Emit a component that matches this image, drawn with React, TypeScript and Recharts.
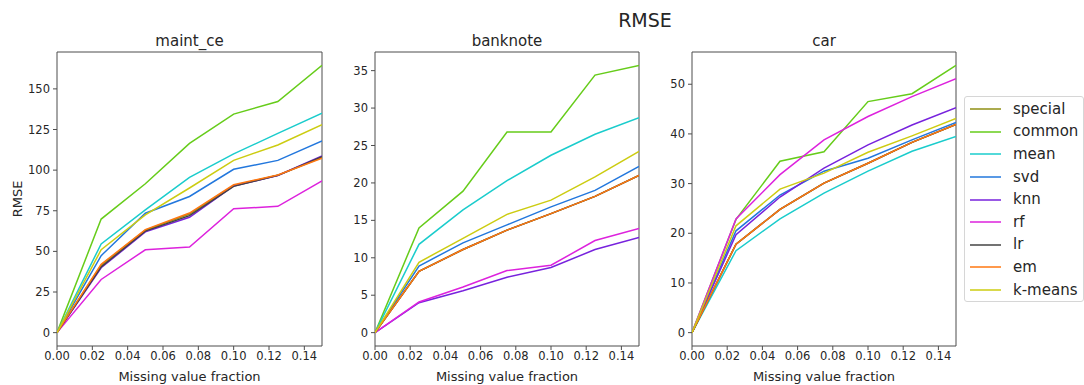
import { LineChart, Line, XAxis, YAxis, ReferenceArea, Legend } from 'recharts';

const fractions = [0, 0.025, 0.05, 0.075, 0.1, 0.125, 0.15];
const xTicks = [0, 0.02, 0.04, 0.06, 0.08, 0.1, 0.12, 0.14];

const methods = ['special', 'common', 'mean', 'svd', 'knn', 'rf', 'lr', 'em', 'k-means'];
const methodColors = ['#8f8f14', '#66cc1a', '#1acccc', '#2277dd', '#7722dd', '#dd22dd', '#444444', '#ff7711', '#cccc11'];

// maint_ce
const maintCe: Record<string, number[]> = {
  special: [0, 41.5, 63, 73, 90.5, 96.8, 107.8],
  common: [0, 69.9, 91.6, 116.5, 134.5, 142.2, 164.5],
  mean: [0, 54.6, 75.5, 95.6, 110, 122.6, 135],
  svd: [0, 47.4, 73.5, 83.8, 100.5, 106, 117.9],
  knn: [0, 39.9, 62, 71, 90.3, 96.7, 108.7],
  rf: [0, 32.7, 51, 52.7, 76.2, 77.7, 93.4],
  lr: [0, 40.5, 62.5, 72, 90, 96.8, 108.3],
  em: [0, 42, 63.4, 73.6, 91, 97, 107.3],
  'k-means': [0, 51, 72.5, 89, 106, 115.5, 128],
};

// banknote
const banknote: Record<string, number[]> = {
  special: [0, 8.2, 11.1, 13.7, 15.9, 18.2, 21.0],
  common: [0, 14.0, 18.9, 26.8, 26.8, 34.4, 35.7],
  mean: [0, 11.8, 16.4, 20.3, 23.7, 26.5, 28.7],
  svd: [0, 8.9, 12.0, 14.4, 16.8, 19.0, 22.2],
  knn: [0, 4.0, 5.6, 7.4, 8.7, 11.1, 12.7],
  rf: [0, 4.1, 6.1, 8.3, 9.0, 12.3, 13.9],
  lr: [0, 8.2, 11.1, 13.7, 15.9, 18.2, 21.0],
  em: [0, 8.2, 11.1, 13.7, 15.9, 18.2, 21.0],
  'k-means': [0, 9.4, 12.6, 15.8, 17.7, 20.8, 24.2],
};

// car
const car: Record<string, number[]> = {
  special: [0, 17.8, 24.8, 30.1, 34.1, 38.3, 41.9],
  common: [0, 22.8, 34.5, 36.4, 46.5, 48.1, 53.8],
  mean: [0, 16.5, 22.9, 28.1, 32.5, 36.5, 39.5],
  svd: [0, 20.5, 27.7, 32.5, 35.1, 38.8, 42.3],
  knn: [0, 19.7, 27.3, 33.1, 37.8, 41.8, 45.3],
  rf: [0, 22.9, 31.8, 38.8, 43.5, 47.5, 51.1],
  lr: [0, 17.8, 24.8, 30.1, 34.1, 38.3, 41.9],
  em: [0, 17.8, 24.8, 30.1, 34.1, 38.3, 41.9],
  'k-means': [0, 21.5, 28.9, 32.1, 36.3, 39.6, 43.1],
};

const maintTicks = [0, 25, 50, 75, 100, 125, 150];
const banknoteTicks = [0, 5, 10, 15, 20, 25, 30, 35];
const carTicks = [0, 10, 20, 30, 40, 50];

const FONT = '"DejaVu Sans", sans-serif';
const TEXT = '#262626';
const SPINE = '#4d4d4d';

function buildRows(values: Record<string, number[]>) {
  return fractions.map((x, i) => {
    const row: Record<string, number> = { x };
    methods.forEach((m) => {
      row[m] = values[m][i];
    });
    return row;
  });
}

function LegendBox({ payload }: any) {
  // keep the plotting order, recharts sorts by name otherwise
  const items = [...(payload || [])].sort(
    (a: any, b: any) => methods.indexOf(a.value) - methods.indexOf(b.value)
  );
  return (
    <div
      style={{
        width: 120,
        height: 206,
        boxSizing: 'border-box',
        border: '1px solid #d6d6d6',
        borderRadius: 3,
        background: 'rgba(255,255,255,0.85)',
        paddingTop: 1,
        fontFamily: FONT,
        fontSize: 15,
        color: TEXT,
      }}
    >
      {items.map((entry: any) => (
        <div key={entry.value} style={{ height: 22.6, display: 'flex', alignItems: 'center' }}>
          <svg width={31} height={4} style={{ marginLeft: 5, marginRight: 12 }}>
            <line x1={0} y1={2} x2={31} y2={2} stroke={entry.color} strokeWidth={1.5} />
          </svg>
          <span style={{ lineHeight: '15px' }}>{entry.value}</span>
        </div>
      ))}
    </div>
  );
}

interface PanelProps {
  left: number;
  width: number;
  yAxisWidth: number;
  plotWidth: number;
  domain: [number, number];
  ticks: number[];
  values: Record<string, number[]>;
  showLegend?: boolean;
}

function Panel({ left, width, yAxisWidth, plotWidth, domain, ticks, values, showLegend }: PanelProps) {
  const data = buildRows(values);
  return (
    <div style={{ position: 'absolute', left, top: 0 }}>
      <LineChart
        width={width}
        height={385}
        data={data}
        margin={{ top: 52, right: width - yAxisWidth - plotWidth, bottom: 0, left: 0 }}
        style={{ fontFamily: FONT }}
      >
        <XAxis
          dataKey="x"
          type="number"
          domain={[0, 0.15]}
          ticks={xTicks}
          allowDataOverflow
          height={39}
          axisLine={false}
          tickLine={{ stroke: SPINE }}
          tickSize={4}
          tickMargin={2}
          tick={{ fill: TEXT, fontSize: 11.5 }}
          tickFormatter={(v: number) => v.toFixed(2)}
          interval={0}
          label={{ value: 'Missing value fraction', position: 'insideBottom', offset: 4, fill: TEXT, fontSize: 13 }}
        />
        <YAxis
          type="number"
          domain={domain}
          ticks={ticks}
          allowDataOverflow
          width={yAxisWidth}
          axisLine={false}
          tickLine={{ stroke: SPINE }}
          tickSize={4}
          tickMargin={3}
          tick={{ fill: TEXT, fontSize: 11.5 }}
          interval={0}
        />
        {methods.map((m, i) => (
          <Line
            key={m}
            type="linear"
            dataKey={m}
            name={m}
            stroke={methodColors[i]}
            strokeWidth={1.5}
            dot={false}
            activeDot={false}
            isAnimationActive={false}
          />
        ))}
        <ReferenceArea
          x1={0}
          x2={0.15}
          y1={domain[0]}
          y2={domain[1]}
          fill="none"
          stroke={SPINE}
          strokeWidth={1}
          ifOverflow="visible"
        />
        {showLegend && (
          <Legend
            layout="vertical"
            align="center"
            verticalAlign="middle"
            content={LegendBox}
            wrapperStyle={{ left: 314, top: 96, width: 120, height: 206 }}
          />
        )}
      </LineChart>
    </div>
  );
}

export default function App() {
  return (
    <div
      style={{
        position: 'absolute',
        left: 0,
        top: 0,
        width: 1084,
        height: 385,
        background: '#fff',
        overflow: 'hidden',
        fontFamily: FONT,
      }}
    >
      <Panel left={0} width={337} yAxisWidth={57} plotWidth={265} domain={[-8.23, 172.7]} ticks={maintTicks} values={maintCe} />
      <Panel left={330} width={354} yAxisWidth={45} plotWidth={264} domain={[-1.785, 37.49]} ticks={banknoteTicks} values={banknote} />
      <Panel left={650} width={434} yAxisWidth={42} plotWidth={264} domain={[-2.69, 56.49]} ticks={carTicks} values={car} showLegend />
      <svg
        width={1084}
        height={385}
        style={{ position: 'absolute', left: 0, top: 0, pointerEvents: 'none', fontFamily: FONT }}
      >
        <text x={645} y={27} textAnchor="middle" fontSize={19} fill={TEXT}>RMSE</text>
        <text x={189.5} y={46} textAnchor="middle" fontSize={15} fill={TEXT}>maint_ce</text>
        <text x={507} y={46} textAnchor="middle" fontSize={15} fill={TEXT}>banknote</text>
        <text x={824} y={46} textAnchor="middle" fontSize={15} fill={TEXT}>car</text>
        <text
          x={17}
          y={199}
          textAnchor="middle"
          dominantBaseline="central"
          fontSize={13}
          fill={TEXT}
          transform="rotate(-90 17 199)"
        >
          RMSE
        </text>
      </svg>
    </div>
  );
}
